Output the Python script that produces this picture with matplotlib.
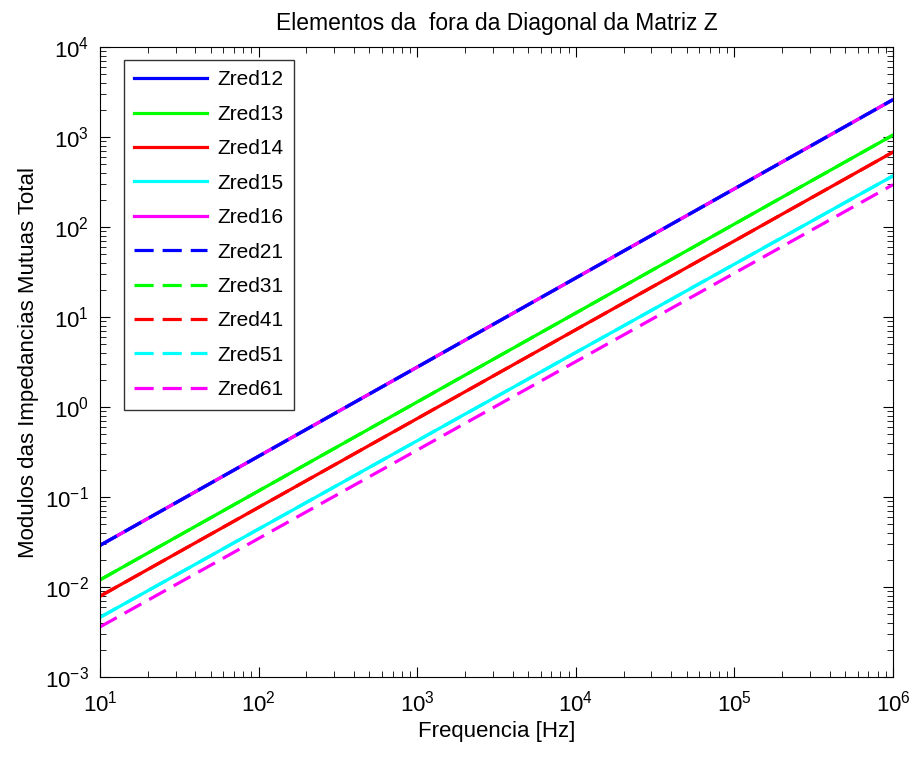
import numpy as np
import matplotlib
matplotlib.use("Agg")
import matplotlib.pyplot as plt

plt.rcParams['font.family'] = ['Liberation Sans', 'DejaVu Sans']
plt.rcParams['mathtext.default'] = 'regular'

# frequency end points (Hz) - curves are straight lines in log-log
freq = [10, 1e6]

# modulus values read at the two ends
zred12 = [0.029, 2600]
zred13 = [0.012, 1050]
zred14 = [0.0079, 680]
zred15 = [0.0046, 370]
zred16 = [0.029, 2600]
zred21 = [0.029, 2600]
zred31 = [0.012, 1050]
zred41 = [0.0079, 680]
zred51 = [0.0046, 370]
zred61 = [0.0036, 295]

series = [
    ('Zred12', zred12, '#0000ff', '-'),
    ('Zred13', zred13, '#00ff00', '-'),
    ('Zred14', zred14, '#ff0000', '-'),
    ('Zred15', zred15, '#00ffff', '-'),
    ('Zred16', zred16, '#ff00ff', '-'),
    ('Zred21', zred21, '#0000ff', '--'),
    ('Zred31', zred31, '#00ff00', '--'),
    ('Zred41', zred41, '#ff0000', '--'),
    ('Zred51', zred51, '#00ffff', '--'),
    ('Zred61', zred61, '#ff00ff', '--'),
]

fig = plt.figure(figsize=(9.17, 7.58), dpi=100)
ax = fig.add_axes([100/917, 81/758, 793/917, 630/758])

for name, vals, col, ls in series:
    if ls == '--':
        ax.loglog(freq, vals, color=col, linewidth=2.3, label=name, dashes=(6, 2.8))
    else:
        ax.loglog(freq, vals, color=col, linestyle='-', linewidth=2.3, label=name)

ax.set_xlim(10, 1e6)
ax.set_ylim(1e-3, 1e4)
ax.tick_params(which='both', direction='in', top=True, right=True, labelsize=16)
ax.tick_params(axis='x', which='major', pad=10)
ax.tick_params(axis='y', which='major', pad=8)
ax.tick_params(which='major', length=7)
ax.tick_params(which='minor', length=4)
ax.set_xlabel('Frequencia [Hz]', fontsize=16, labelpad=3)
ax.set_ylabel('Modulos das Impedancias Mutuas Total', fontsize=16, labelpad=4)
ax.set_title('Elementos da  fora da Diagonal da Matriz Z', fontsize=16.5, pad=12)

leg = ax.legend(loc='upper left', bbox_to_anchor=(24/793, 1 - 13/630),
                borderaxespad=0, fontsize=15, fancybox=False, edgecolor='black',
                handlelength=3.5, labelspacing=0.74,
                handletextpad=0.5, borderpad=0.5)
leg.get_frame().set_linewidth(1.0)

fig.savefig('out.png', dpi=100)
